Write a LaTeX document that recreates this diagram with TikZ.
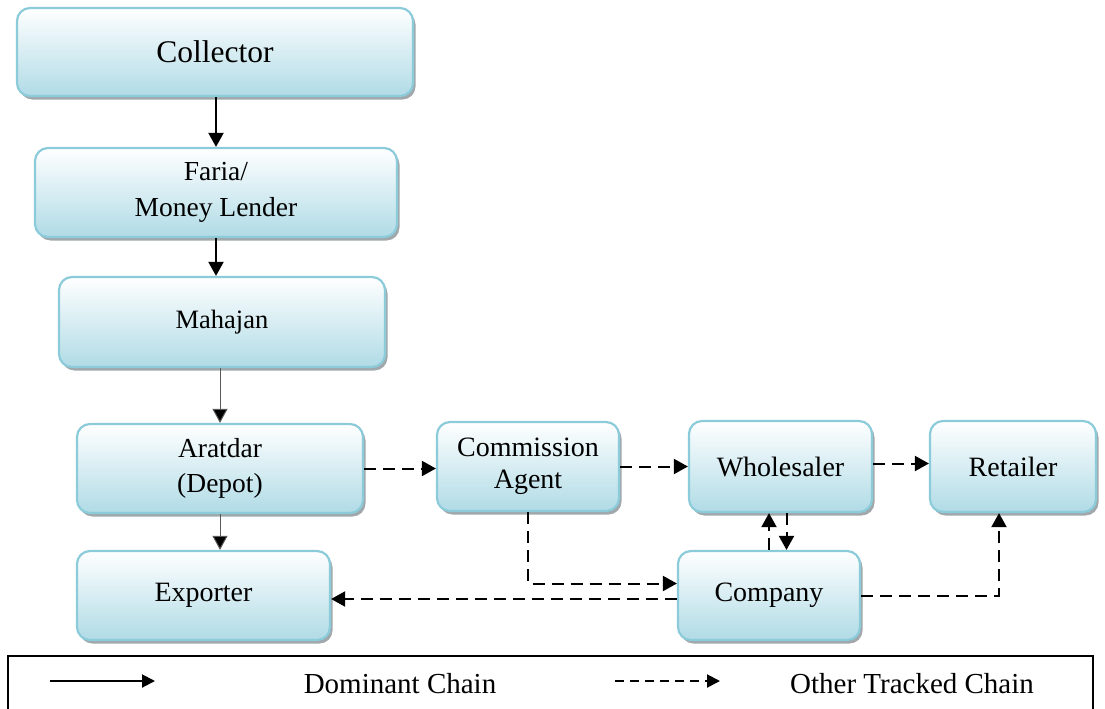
\documentclass[tikz,border=0pt]{standalone}
\usepackage{fontspec}
\setmainfont{Liberation Serif}
\usetikzlibrary{arrows.meta,shadows}
\definecolor{boxedge}{RGB}{140,203,218}
\definecolor{boxlow}{RGB}{176,219,230}
\definecolor{shadowgray}{RGB}{150,158,162}
\tikzset{
  box/.style={rectangle, rounded corners=13pt, draw=boxedge, line width=2.2pt,
    top color=white, bottom color=boxlow, inner sep=0pt, align=center,
    font=\fontsize{28}{34}\selectfont,
    drop shadow={shadow xshift=2.5pt, shadow yshift=-3.5pt, fill=shadowgray, opacity=0.9}},
  solidarrow/.style={line width=2pt, -{Triangle[length=14pt,width=15pt]}},
  thinarrow/.style={line width=1pt, draw=black!65, -{Triangle[length=14pt,width=15pt,fill=black]}},
  dasharrow/.style={line width=2pt, dash pattern=on 12pt off 7pt, -{Triangle[length=14pt,width=15pt]}},
  legendtext/.style={font=\fontsize{29}{34}\selectfont, inner sep=0pt}
}
\begin{document}
\begin{tikzpicture}[x=1pt, y=-1pt]
  \useasboundingbox (0,0) rectangle (1105,709);

  % vertical chain
  \node[box, minimum width=396pt, minimum height=88pt, font=\fontsize{31.5}{36}\selectfont] (coll) at (215,52) {Collector};
  \node[box, minimum width=362pt, minimum height=89pt, font=\fontsize{27.5}{36}\selectfont] (faria) at (216,192.5) {Faria/\\Money Lender};
  \node[box, minimum width=326pt, minimum height=90pt, font=\fontsize{26.5}{32}\selectfont] (mah) at (222,322) {Mahajan};
  \node[box, minimum width=286pt, minimum height=89pt, font=\fontsize{27.5}{35}\selectfont] (arat) at (220,468.5) {Aratdar\\(Depot)};
  \node[box, minimum width=253pt, minimum height=89pt] (exp) at (203.5,595.5) {Exporter};

  % other traders
  \node[box, minimum width=182pt, minimum height=89pt, font=\fontsize{28}{32}\selectfont] (comm) at (528,466.5) {Commission\\Agent};
  \node[box, minimum width=183pt, minimum height=91pt] (whole) at (780.5,466.5) {Wholesaler};
  \node[box, minimum width=182pt, minimum height=89pt] (comp) at (769,595.5) {Company};
  \node[box, minimum width=166pt, minimum height=91pt] (ret) at (1013,466.5) {Retailer};

  % dominant chain
  \draw[solidarrow] (coll.south -| faria.north) -- (faria.north);
  \draw[solidarrow] (faria.south) -- (faria.south |- mah.north);
  \draw[thinarrow] (arat.north |- mah.south) -- (arat.north);
  \draw[thinarrow] (arat.south) -- (arat.south |- exp.north);

  % other tracked chains
  \draw[dasharrow] (arat.east) -- (arat.east -| comm.west);
  \draw[dasharrow] (comm.east) -- (comm.east -| whole.west);
  \draw[dasharrow] ([yshift=3pt]whole.east) -- ([yshift=3pt]whole.east -| ret.west);
  \draw[dasharrow] (comm.south) |- ([yshift=12pt]comp.west);
  \draw[dasharrow] ([yshift=-3.5pt]comp.west) -- ([yshift=-3.5pt]exp.east);
  \draw[dasharrow] (comp.east) -| ([xshift=-14pt]ret.south);
  \draw[dasharrow] (comp.north) -- (comp.north |- whole.south);
  \draw[dasharrow] ([xshift=6pt]whole.south) -- ([xshift=6pt]whole.south |- comp.north);

  % legend
  \coordinate (lgbl) at (8,712);
  \coordinate (lgtr) at (1093,656);
  \draw[line width=1.5pt] (lgbl) |- (lgtr) -- (lgtr |- lgbl);
  \coordinate (sa) at (50,681);
  \coordinate (sb) at (155,681);
  \draw[line width=2pt, -{Triangle[length=13pt,width=13pt]}] (sa) -- (sb);
  \node[legendtext] (ldom) at (400,684) {Dominant Chain};
  \coordinate (da) at (615,681);
  \coordinate (db) at (720,681);
  \draw[line width=2pt, dash pattern=on 9pt off 6pt, -{Triangle[length=13pt,width=13pt]}] (da) -- (db);
  \node[legendtext] (loth) at (912,684) {Other Tracked Chain};
\end{tikzpicture}
\end{document}
